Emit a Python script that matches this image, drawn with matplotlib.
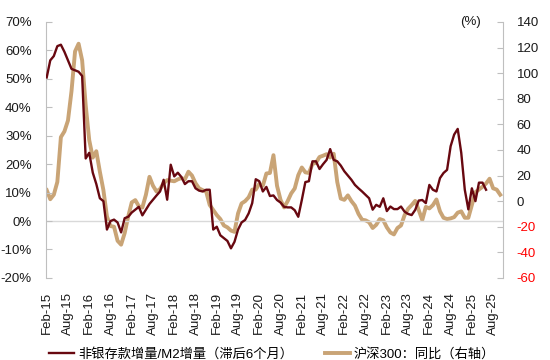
import matplotlib
matplotlib.use("Agg")
import matplotlib.pyplot as plt
import numpy as np

plt.rcParams['font.family'] = ['Liberation Sans', 'Noto Sans CJK SC', 'DejaVu Sans']

# Monthly, starting Feb-2015
start_year, start_month = 2015, 2

deposit_ratio = [50.5, 56.5, 58, 61.5, 62, 59.5, 56.5, 53.5, 53, 52.5,
                 51, 22, 24, 17, 13, 8, 7, -3, 0, 0.5,
                 -0.5, -4, 1, 1.5, 3, 4, 5, 2, 4, 6,
                 7.5, 9, 10.4, 14.5, 7.5, 19.8, 15.7, 17, 15.5, 13,
                 14, 14, 11.5, 10.7, 10.4, 11, 11, -3, -2, -5,
                 -6, -7, -9.6, -7.3, -3, -0.5, 0.4, 2.7, 6.3, 14.7,
                 14, 10.4, 12, 8.8, 9, 7.4, 6.5, 5, 4.8, 4.8,
                 3.8, 1.5, 7.4, 13.7, 14, 21, 21, 18.3, 20, 21.5,
                 25.3, 21.5, 21, 19.5, 17.5, 16, 14.5, 12.7, 11.5, 10.4,
                 9.2, 8, 4, 5.7, 5, 8, 3.5, 5.1, 4.2, 4.2,
                 5.1, 3.3, 2.5, 2.1, 3.9, 7.2, 7.4, 6.3, 12.7, 11,
                 10.4, 15.1, 16.9, 18, 26.3, 30.4, 32.4, 24, 11, 4.1,
                 11.5, 7, 13.5, 13.5, 11]

csi300_yoy = [8.6, 1.5, 5, 15, 50, 54.5, 63, 86, 117, 123,
              110, 75, 47.7, 34, 39, 23, 8.6, -12, -19.5, -20,
              -31, -34, -25, -12, -1, 0.8, -4, -5, 5, 19,
              12, 7.5, 9.5, 14, 16.4, 16, 15.5, 17, 18, 17,
              23, 20, 14, 10, 8.6, 7.5, -3, -7, -10.9, -14,
              -19, -20.5, -23, -24, -9.6, -1.8, 0, 3, 9, 9,
              13.5, 12, 21.6, 22, 35.9, 12, 1, -4.9, 0, 6,
              9.9, 20.3, 26.3, 22.5, 22, 29, 30, 34.5, 35.5, 36.7,
              34.1, 37, 15, 2, 1, 4.5, 0, -3.5, -10, -14.5,
              -15, -16.5, -21, -18.5, -14, -15, -20.5, -24.5, -26, -21,
              -19, -11, -6, -3.1, 0.2, -7, -14.8, -4.5, -5.7, -3.1,
              1.3, -8, -13, -14, -13.5, -12.5, -9, -8, -13, -13,
              -3, 7, 9.1, 11.2, 13.8, 17.5, 10, 9, 5]

month_abbr = ['Jan', 'Feb', 'Mar', 'Apr', 'May', 'Jun', 'Jul', 'Aug', 'Sep', 'Oct', 'Nov', 'Dec']
tick_idx = list(range(0, 127, 6))
tick_labels = []
for i in tick_idx:
    mm = start_month - 1 + i
    y = start_year + mm // 12
    tick_labels.append(f"{month_abbr[mm % 12]}-{y % 100:02d}")

left_ticks = [-20, -10, 0, 10, 20, 30, 40, 50, 60, 70]
right_ticks = [-60, -40, -20, 0, 20, 40, 60, 80, 100, 120, 140]

label_deposit = '非银存款增量/M2增量（滞后6个月）'
label_csi = '沪深300：同比（右轴）'

maroon = '#680810'
tan = '#C9A476'
gray = '#BFBFBF'
txt = '#1a1a1a'

fig = plt.figure(figsize=(5.5, 3.6), dpi=100)
ax = fig.add_axes([0.083, 0.228, 0.831, 0.711])
ax2 = ax.twinx()

x1 = np.arange(len(deposit_ratio))
x2 = np.arange(len(csi300_yoy))
ln2, = ax2.plot(x2, csi300_yoy, color=tan, lw=2.8, solid_joinstyle='round', zorder=2)
ln1, = ax.plot(x1, deposit_ratio, color=maroon, lw=1.7, zorder=3)
ax.set_zorder(ax2.get_zorder() + 1)
ax.patch.set_visible(False)

ax.set_ylim(-20, 70)
ax2.set_ylim(-60, 140)
ax.set_xlim(-0.3, 128.7)

ax.axhline(0, color='#D9D9D9', lw=1.0, zorder=1)

ax.set_yticks(left_ticks)
ax.set_yticklabels([f"{t}%" for t in left_ticks])
ax2.set_yticks(right_ticks)
ax2.set_yticklabels([str(t) for t in right_ticks])
for lbl, t in zip(ax2.get_yticklabels(), right_ticks):
    lbl.set_color('#FF0000' if t < 0 else txt)

ax.set_xticks(tick_idx)
ax.set_xticklabels(tick_labels, rotation=90)

for a in (ax, ax2):
    for s in ('top', 'bottom'):
        a.spines[s].set_visible(False)
ax.spines['right'].set_visible(False)
ax2.spines['left'].set_visible(False)
ax.spines['left'].set_color(gray)
ax2.spines['right'].set_color(gray)

ax.tick_params(axis='y', direction='in', length=4, color=gray, labelsize=9.5, labelcolor=txt, pad=10)
ax2.tick_params(axis='y', direction='in', length=4, color=gray, labelsize=9.5, pad=10)
ax.tick_params(axis='x', length=0, labelsize=9.5, labelcolor=txt, pad=10)

fig.text(0.875, 0.939, '(%)', ha='right', va='center', fontsize=9.5, color=txt)

fig.legend([ln1, ln2], [label_deposit, label_csi], loc='lower left',
           bbox_to_anchor=(0.068, -0.035), ncol=2, frameon=False,
           fontsize=9.5, handlelength=1.9, handletextpad=0.3, columnspacing=2.4)

fig.savefig('out.png', dpi=100)
